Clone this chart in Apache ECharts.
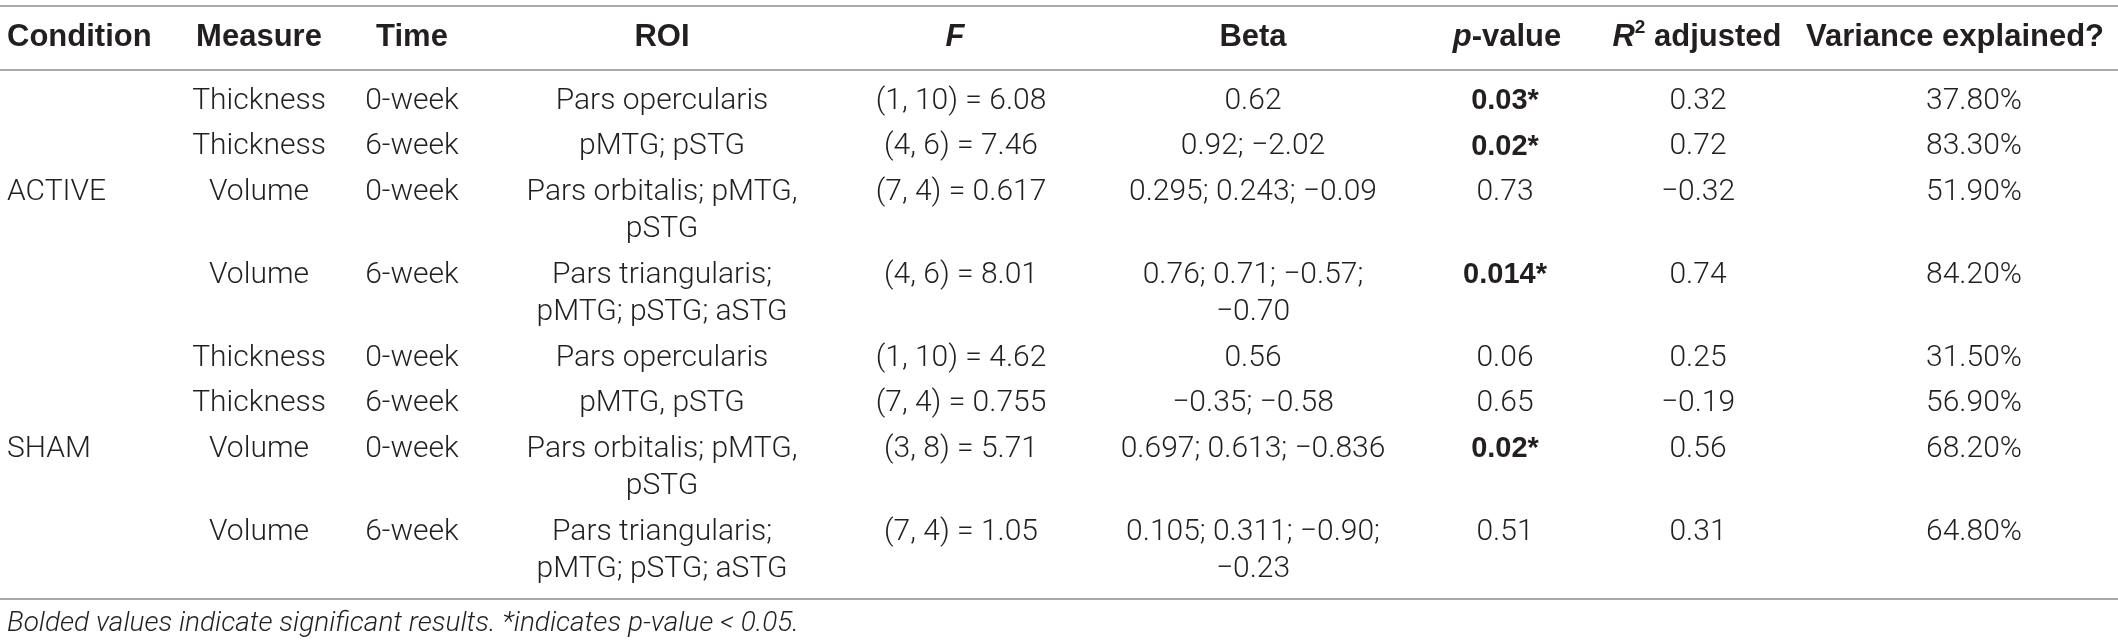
<!DOCTYPE html>
<html>
<head>
<meta charset="utf-8">
<script src="https://cdn.jsdelivr.net/npm/echarts@6/dist/echarts.min.js"></script>
<style>
  html, body { margin: 0; padding: 0; background: #fff; }
  #main { width: 2118px; height: 643px; }
</style>
</head>
<body>
<div id="main"></div>
<script>
// table content
const headers = ['Condition', 'Measure', 'Time', 'ROI', '{i|F}', 'Beta', '{i|p}-value', '{i|R}{sup|2} adjusted', 'Variance explained?'];
const conditions = ['', '', 'ACTIVE', '', '', '', 'SHAM', ''];
const measures = ['Thickness', 'Thickness', 'Volume', 'Volume', 'Thickness', 'Thickness', 'Volume', 'Volume'];
const times = ['0-week', '6-week', '0-week', '6-week', '0-week', '6-week', '0-week', '6-week'];
const rois = ['Pars opercularis', 'pMTG; pSTG', 'Pars orbitalis; pMTG,\npSTG', 'Pars triangularis;\npMTG; pSTG; aSTG',
  'Pars opercularis', 'pMTG, pSTG', 'Pars orbitalis; pMTG,\npSTG', 'Pars triangularis;\npMTG; pSTG; aSTG'];
const fStats = ['(1, 10) = 6.08', '(4, 6) = 7.46', '(7, 4) = 0.617', '(4, 6) = 8.01',
  '(1, 10) = 4.62', '(7, 4) = 0.755', '(3, 8) = 5.71', '(7, 4) = 1.05'];
const betas = ['0.62', '0.92; \u22122.02', '0.295; 0.243; \u22120.09', '0.76; 0.71; \u22120.57;\n\u22120.70',
  '0.56', '\u22120.35; \u22120.58', '0.697; 0.613; \u22120.836', '0.105; 0.311; \u22120.90;\n\u22120.23'];
const pValues = ['0.03*', '0.02*', '0.73', '0.014*', '0.06', '0.65', '0.02*', '0.51'];
const r2Adjusted = ['0.32', '0.72', '\u22120.32', '0.74', '0.25', '\u22120.19', '0.56', '0.31'];
const varianceExplained = ['37.80%', '83.30%', '51.90%', '84.20%', '31.50%', '56.90%', '68.20%', '64.80%'];
const footnote = 'Bolded values indicate significant results. *indicates p-value < 0.05.';

// layout
const W = 2118, H = 643;
const colX = [7, 259, 412, 662, 961, 1253, 1505, 1698, 1974];
const headerX = [7, 259, 412, 662, 955, 1253, 1507, 1697, 1955];
const colAlign = ['left', 'center', 'center', 'center', 'center', 'center', 'center', 'center', 'center'];
const lineH = 37.5;
const rowGap = 45.5;
const firstRowY = 101;
const headerY = 37;
const ruleY = [6, 70, 599];
const footY = 624;

const columns = [conditions, measures, times, rois, fStats, betas, pValues, r2Adjusted, varianceExplained];

// row centre of first text line, rows grow by their number of lines
const rowY = [];
let y = firstRowY;
for (let r = 0; r < measures.length; r++) {
  rowY.push(y);
  const lines = Math.max(...columns.map(c => c[r].split('\n').length));
  y += rowGap + (lines - 1) * lineH;
}

const cells = [];
headers.forEach((h, c) => cells.push([headerX[c], headerY, h, 'header', c]));
columns.forEach((col, c) => col.forEach((txt, r) => {
  if (txt) cells.push([colX[c], rowY[r], txt, c === 6 && txt.indexOf('*') >= 0 ? 'sig' : 'body', c]);
}));
cells.push([7, footY, footnote, 'foot', 0]);

const textColor = '#231f20';
const fontBody = 'Roboto, "Liberation Sans", sans-serif';
const fontBold = '"Liberation Sans", Arial, sans-serif';

const chart = echarts.init(document.getElementById('main'));
chart.setOption({
  animation: false,
  backgroundColor: '#fff',
  grid: { left: 0, right: 0, top: 0, bottom: 0 },
  xAxis: { type: 'value', min: 0, max: W, show: false },
  yAxis: { type: 'value', min: 0, max: H, inverse: true, show: false },
  series: [
    {
      type: 'line',
      data: [],
      silent: true,
      markLine: {
        symbol: 'none',
        silent: true,
        label: { show: false },
        lineStyle: { color: '#a9a9a9', width: 2, type: 'solid' },
        data: ruleY.map(v => ({ yAxis: v }))
      }
    },
    {
      type: 'custom',
      silent: true,
      data: cells,
      renderItem: function (params, api) {
        const d = cells[params.dataIndex];
        const p = api.coord([d[0], d[1]]);
        const kind = d[3];
        const style = {
          text: d[2],
          fill: textColor,
          align: kind === 'foot' ? 'left' : colAlign[d[4]],
          verticalAlign: 'top',
          fontFamily: fontBody,
          fontSize: 30,
          fontWeight: 300,
          lineHeight: lineH
        };
        if (kind === 'header') {
          style.fontWeight = 'bold';
          style.fontSize = 31;
          style.fontFamily = fontBold;
          style.rich = {
            i: { fontStyle: 'italic', fontWeight: 'bold', fontSize: 31, fontFamily: fontBold, fill: textColor },
            sup: { fontWeight: 'bold', fontSize: 19, verticalAlign: 'top', lineHeight: 28, fontFamily: fontBold, fill: textColor }
          };
        } else if (kind === 'sig') {
          style.fontWeight = 'bold';
          style.fontFamily = fontBold;
          style.fontSize = 29;
        } else if (kind === 'foot') {
          style.fontStyle = 'italic';
          style.fontSize = 28;
        }
        return {
          type: 'text',
          x: p[0],
          y: p[1] - lineH / 2,
          style: style
        };
      }
    }
  ]
});
</script>
</body>
</html>
